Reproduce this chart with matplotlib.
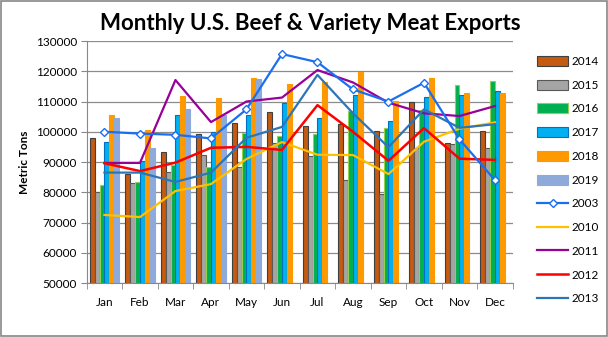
import numpy as np
import matplotlib
matplotlib.use("Agg")
from matplotlib import pyplot as plt
from matplotlib.patches import Rectangle
from matplotlib.lines import Line2D

plt.rcParams["font.family"] = ["Lato", "DejaVu Sans"]

months = ["Jan", "Feb", "Mar", "Apr", "May", "Jun", "Jul", "Aug", "Sep", "Oct", "Nov", "Dec"]

# bar series (metric tons)
y2014 = [98000, 86000, 93200, 99200, 102800, 106500, 101800, 102500, 100300, 109800, 96200, 100300]
y2015 = [80000, 83000, 86600, 92200, 88500, 96200, 91900, 84000, 79400, 94500, 95800, 94600]
y2016 = [82300, 83300, 89000, 88200, 99500, 98700, 99100, 106900, 101100, 107300, 115400, 116800]
y2017 = [96600, 90200, 105400, 99800, 105500, 109500, 104500, 112100, 103500, 111500, 112100, 113500]
y2018 = [105500, 100600, 111800, 111300, 117700, 115800, 116500, 119900, 110200, 117800, 112900, 112900]
y2019 = [104600, 94600, 107500, 105500, 117300]

# line series
y2003 = [100000, 99400, 99000, 97800, 107400, 125700, 123000, 114000, 110000, 116200, 97500, 84000]
y2010 = [72500, 71800, 80400, 82700, 91000, 96600, 92400, 92300, 86000, 96700, 101000, 103100]
y2011 = [89700, 89700, 117100, 103200, 110000, 111300, 120400, 116300, 109600, 106100, 105200, 108500]
y2012 = [89600, 87000, 89800, 94700, 95000, 94000, 108800, 100000, 90400, 101200, 91100, 90700]
y2013 = [86500, 86500, 83400, 86500, 98000, 101600, 118800, 106100, 94900, 107400, 101300, 102500]

bar_series = [
    ("2014", y2014, "#c55a11", "#404040"),
    ("2015", y2015, "#a5a5a5", "#595959"),
    ("2016", y2016, "#00b050", "#92d050"),
    ("2017", y2017, "#00b0f0", "#0070c0"),
    ("2018", y2018, "#ff9900", "#ff9900"),
    ("2019", y2019, "#8eaadb", "#8eaadb"),
]
line_series = [
    ("2003", y2003, "#1a6ff0"),
    ("2010", y2010, "#ffc000"),
    ("2011", y2011, "#990099"),
    ("2012", y2012, "#ff0000"),
    ("2013", y2013, "#2e75b6"),
]

fig = plt.figure(figsize=(6.08, 3.37), dpi=100)
ax = fig.add_axes([0.1426, 0.1602, 0.7007, 0.7181])

x = np.arange(len(months))
bw = 0.137
handles = []
for i, (lab, vals, col, ec) in enumerate(bar_series):
    xs = x[:len(vals)] + (i - 2.5) * bw
    ax.bar(xs, vals, width=bw, color=col, edgecolor=ec, linewidth=0.8, zorder=2)
    handles.append(Rectangle((0, 0), 1, 1, facecolor=col, edgecolor=ec, linewidth=0.8))

for lab, vals, col in line_series:
    if lab == "2003":
        ax.plot(x, vals, color=col, lw=1.6, marker="D", ms=4.5, mfc="white",
                mec=col, mew=1.0, zorder=4)
        handles.append(Line2D([], [], color=col, lw=1.6, marker="D", ms=4.5,
                              mfc="white", mec=col, mew=1.0))
    else:
        lw = 1.8 if lab == "2012" else 1.6
        ax.plot(x, vals, color=col, lw=lw, zorder=3)
        handles.append(Line2D([], [], color=col, lw=lw))

labels = [s[0] for s in bar_series] + [s[0] for s in line_series]

ax.set_xlim(-0.5, 11.5)
ax.set_ylim(50000, 130000)
ax.set_yticks(np.arange(50000, 130001, 10000))
ax.set_xticks(x)
ax.set_xticklabels(months, fontsize=8.5)
ax.set_xticks(np.arange(-0.5, 12, 1), minor=True)
ax.tick_params(axis="x", which="major", length=0, pad=10)
ax.tick_params(axis="x", which="minor", length=4, color="#888888", direction="out")
ax.tick_params(axis="y", length=4, color="#888888", labelsize=8.5, pad=3)
ax.grid(axis="y", color="#8c8c8c", lw=0.9, zorder=0)
ax.set_axisbelow(True)
for s in ["top", "right"]:
    ax.spines[s].set_visible(False)
for s in ["left", "bottom"]:
    ax.spines[s].set_color("#888888")
ax.set_ylabel("Metric Tons", fontsize=8.5, fontweight="bold", labelpad=4)

fig.text(0.51, 0.911, "Monthly U.S. Beef & Variety Meat Exports", ha="center",
         va="baseline", fontsize=16, fontweight="bold")

fig.legend(handles, labels, loc="upper left", bbox_to_anchor=(0.876, 0.848),
           frameon=False, fontsize=8.5, handlelength=2.6, handleheight=0.9,
           labelspacing=1.08, handletextpad=0.3, borderaxespad=0)

fig.add_artist(Rectangle((0.001, 0.002), 0.997, 0.995, transform=fig.transFigure,
                         fill=False, edgecolor="#888888", lw=1.2))

fig.savefig("out.png", dpi=100)
